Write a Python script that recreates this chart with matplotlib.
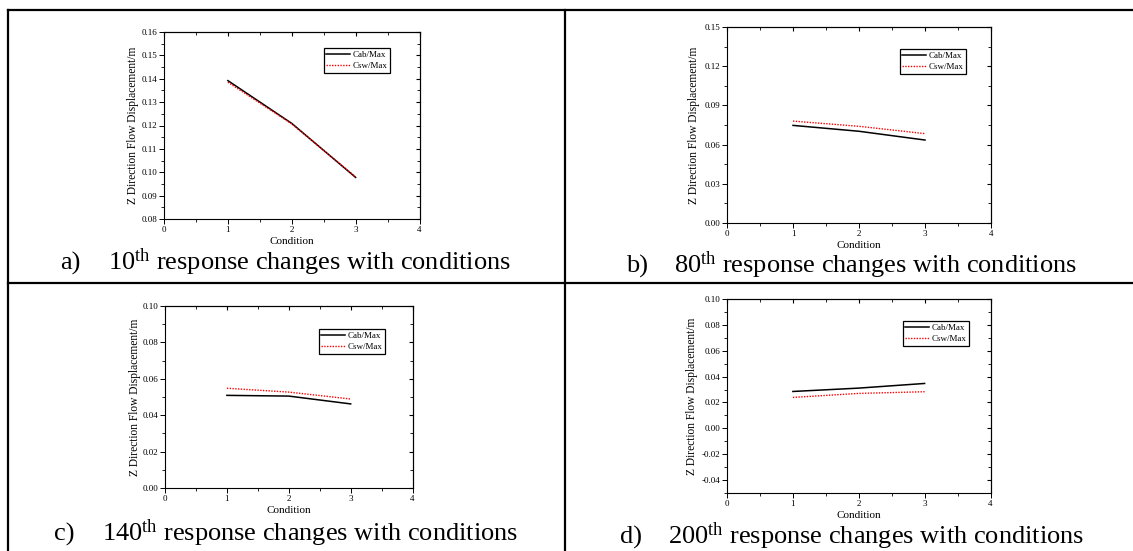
#imports
import numpy as np
import matplotlib
matplotlib.use("Agg")
import matplotlib.pyplot as plt
from matplotlib.lines import Line2D

#datos
conditions = [1, 2, 3]

cab_10 = [0.1392, 0.1209, 0.0978]
csw_10 = [0.1385, 0.1207, 0.0980]

cab_80 = [0.0747, 0.0702, 0.0635]
csw_80 = [0.0780, 0.0740, 0.0684]

cab_140 = [0.0509, 0.0505, 0.0462]
csw_140 = [0.0548, 0.0527, 0.0489]

cab_200 = [0.0285, 0.0311, 0.0347]
csw_200 = [0.0239, 0.0270, 0.0283]

series_labels = ["Cab/Max", "Csw/Max"]
ylabel = "Z Direction Flow Displacement/m"
xlabel = "Condition"
letters = ["a)", "b)", "c)", "d)"]
orders = ["10", "80", "140", "200"]
caption_tail = " response changes with conditions"

plt.rcParams['font.family'] = ['Liberation Serif', 'DejaVu Serif']
plt.rcParams['mathtext.fontset'] = 'custom'
plt.rcParams['mathtext.rm'] = 'Liberation Serif'
plt.rcParams['mathtext.it'] = 'Liberation Serif:italic'

W, H = 1133, 551
fig = plt.figure(figsize=(W / 100, H / 100), dpi=100)


def box(l, t, r, b):
    # pixeles -> fraccion de figura
    return [l / W, 1 - b / H, (r - l) / W, (b - t) / H]


#lineas de la tabla
lw_tab = 1.6
fig.add_artist(Line2D([8 / W, 1], [1 - 10 / H, 1 - 10 / H], color='black', lw=lw_tab))
fig.add_artist(Line2D([8 / W, 1], [1 - 283 / H, 1 - 283 / H], color='black', lw=lw_tab))
fig.add_artist(Line2D([8 / W, 8 / W], [0, 1 - 10 / H], color='black', lw=lw_tab))
fig.add_artist(Line2D([565 / W, 565 / W], [0, 1 - 10 / H], color='black', lw=lw_tab))

panels = [
    # axes px, ylim, ytick step, legend (right, top), ylabel x, caption (x letra, x texto, baseline)
    (cab_10, csw_10, (164, 32, 419.5, 219), (0.08, 0.16), 0.01, (390, 48), 133, (60, 108, 270)),
    (cab_80, csw_80, (727, 27, 991, 223), (0.0, 0.15), 0.03, (966, 49), 694, (626, 674, 273)),
    (cab_140, csw_140, (165, 306, 412.6, 488), (0.0, 0.10), 0.02, (385, 329), 135, (54, 102, 541)),
    (cab_200, csw_200, (727, 299, 990.5, 493), (-0.05, 0.10), 0.02, (969, 321), 692, (620, 668, 544)),
]

for i, (cab, csw, rect, ylim, step, leg, ylx, cap) in enumerate(panels):
    ax = fig.add_axes(box(*rect))
    ax.plot(conditions, cab, color='black', lw=1.1, label=series_labels[0])
    ax.plot(conditions, csw, color='red', lw=1.0, ls=(0, (1, 1)), label=series_labels[1])

    ax.set_xlim(0, 4)
    ax.set_xticks([0, 1, 2, 3, 4])
    ax.set_xticks(np.arange(0.5, 4, 1), minor=True)
    start = np.ceil(ylim[0] / step - 1e-9) * step
    yt = np.round(np.arange(start, ylim[1] + step / 2, step), 4) + 0.0
    ymin = np.round(np.arange(start - step / 2, ylim[1], step), 4) + 0.0
    ax.set_yticks(yt)
    ax.set_yticks(ymin, minor=True)
    ax.set_ylim(*ylim)
    ax.yaxis.set_major_formatter(plt.FuncFormatter(lambda v, p: '%.2f' % (round(v, 4) + 0.0)))

    ax.tick_params(which='major', direction='out', length=3.5, width=0.7, labelsize=6.5, pad=1.5)
    ax.tick_params(which='minor', direction='out', length=2, width=0.6)
    for s in ax.spines.values():
        s.set_linewidth(0.8)

    # ticks espejo hacia dentro
    top = ax.secondary_xaxis('top')
    top.set_xticks([0, 1, 2, 3, 4])
    top.set_xticks(np.arange(0.5, 4, 1), minor=True)
    top.tick_params(which='both', direction='in', length=3, labeltop=False)
    top.tick_params(which='minor', length=2)
    right = ax.secondary_yaxis('right')
    right.set_yticks(yt)
    right.set_yticks(ymin, minor=True)
    right.tick_params(which='both', direction='in', length=3, labelright=False)
    right.tick_params(which='minor', length=2)

    ax.set_xlabel(xlabel, fontsize=8, labelpad=2)
    ax.set_ylabel(ylabel, fontsize=8.3)
    ax.yaxis.set_label_coords((ylx + 6) / W, 1 - (rect[1] + rect[3]) / 2 / H,
                              transform=fig.transFigure)

    ax.legend(loc='upper right', bbox_to_anchor=(leg[0] / W, 1 - leg[1] / H),
              bbox_transform=fig.transFigure, fontsize=6.5, frameon=True,
              fancybox=False, edgecolor='black', framealpha=1, borderpad=0.3,
              labelspacing=0.3, handlelength=2.6, handletextpad=0.3,
              borderaxespad=0)
    ax.get_legend().get_frame().set_linewidth(0.9)

    # pie de figura
    fig.text(cap[0] / W, 1 - cap[2] / H, letters[i], fontsize=19, va='baseline')
    fig.text(cap[1] / W, 1 - cap[2] / H, orders[i] + r"$^{\mathrm{th}}$" + caption_tail,
             fontsize=19, va='baseline')

plt.savefig("out.png", dpi=100)
